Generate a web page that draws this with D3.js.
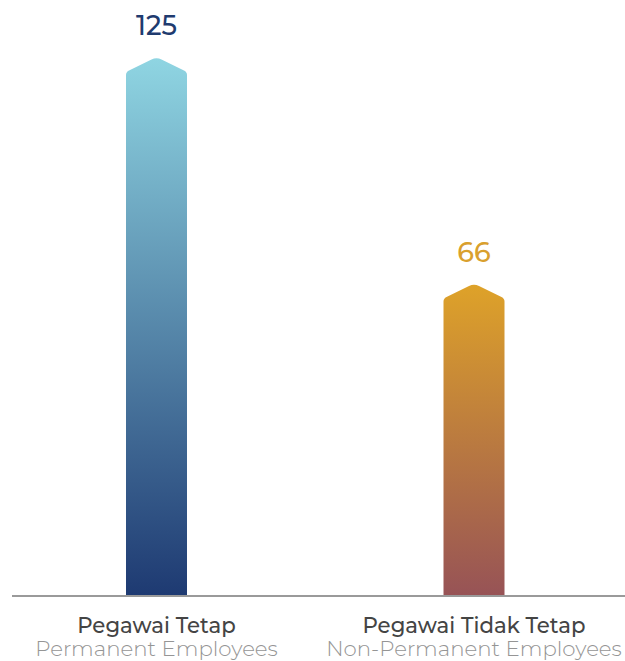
<!DOCTYPE html>
<html><head><meta charset="utf-8">
<script src="https://cdn.jsdelivr.net/npm/d3@7"></script>
<style>html,body{margin:0;padding:0;background:#fff;}svg{display:block;}</style>
</head><body>
<svg id="c" width="625" height="661"></svg>
<script>
const categories = ["Pegawai Tetap", "Pegawai Tidak Tetap"];
const subLabels = ["Permanent Employees", "Non-Permanent Employees"];
const values = [125, 66];
const valueColors = ["#1f3b6f", "#d9a02e"];
const gradTop = ["#8fd5e2", "#dea229"];
const gradBottom = ["#1e3a72", "#975356"];

const svg = d3.select("#c");
const baseY = 595;
const x = d3.scalePoint().domain(categories).range([156.5, 474]);
const y = d3.scaleLinear().domain([0, 125]).range([538, 58]);
const barW = 61, cap = 14;

const defs = svg.append("defs");
categories.forEach((c, i) => {
  const g = defs.append("linearGradient").attr("id", "g" + i)
    .attr("x1", 0).attr("y1", 0).attr("x2", 0).attr("y2", 1);
  g.append("stop").attr("offset", "0%").attr("stop-color", gradTop[i]);
  g.append("stop").attr("offset", "100%").attr("stop-color", gradBottom[i]);
});

function barPath(cx, top) {
  const l = cx - barW / 2, r = cx + barW / 2;
  const sh = top + cap;
  const p = d3.path();
  p.moveTo(l, baseY);
  p.lineTo(l, sh + 3);
  p.quadraticCurveTo(l, sh, l + 3, sh - 1.5);
  p.lineTo(cx - 5, top + 1.5);
  p.quadraticCurveTo(cx, top - 1, cx + 5, top + 1.5);
  p.lineTo(r - 3, sh - 1.5);
  p.quadraticCurveTo(r, sh, r, sh + 3);
  p.lineTo(r, baseY);
  p.closePath();
  return p.toString();
}

svg.selectAll("path.bar").data(values).enter().append("path")
  .attr("class", "bar")
  .attr("d", (d, i) => barPath(x(categories[i]), y(d)))
  .attr("fill", (d, i) => `url(#g${i})`);

svg.append("line").attr("x1", 12).attr("x2", 625).attr("y1", baseY + 1).attr("y2", baseY + 1)
  .attr("stroke", "#9a9a9a").attr("stroke-width", 2);

const font = "Montserrat, 'Open Sans', 'Noto Sans', sans-serif";
svg.selectAll("text.val").data(values).enter().append("text")
  .attr("class", "val")
  .attr("x", (d, i) => x(categories[i]))
  .attr("y", d => y(d) - 23)
  .attr("text-anchor", "middle")
  .attr("font-family", font).attr("font-size", 27).attr("font-weight", 500)
  .attr("fill", (d, i) => valueColors[i])
  .text(d => d);

svg.selectAll("text.cat").data(categories).enter().append("text")
  .attr("class", "cat")
  .attr("x", d => x(d)).attr("y", 633)
  .attr("text-anchor", "middle")
  .attr("font-family", font).attr("font-size", 21.3).attr("font-weight", 500)
  .attr("fill", "#444")
  .text(d => d);

svg.selectAll("text.sub").data(subLabels).enter().append("text")
  .attr("class", "sub")
  .attr("x", (d, i) => x(categories[i])).attr("y", 656)
  .attr("text-anchor", "middle")
  .attr("font-family", font).attr("font-size", 21.3).attr("font-weight", 300)
  .attr("fill", "#959595")
  .text(d => d);
</script>
</body></html>
